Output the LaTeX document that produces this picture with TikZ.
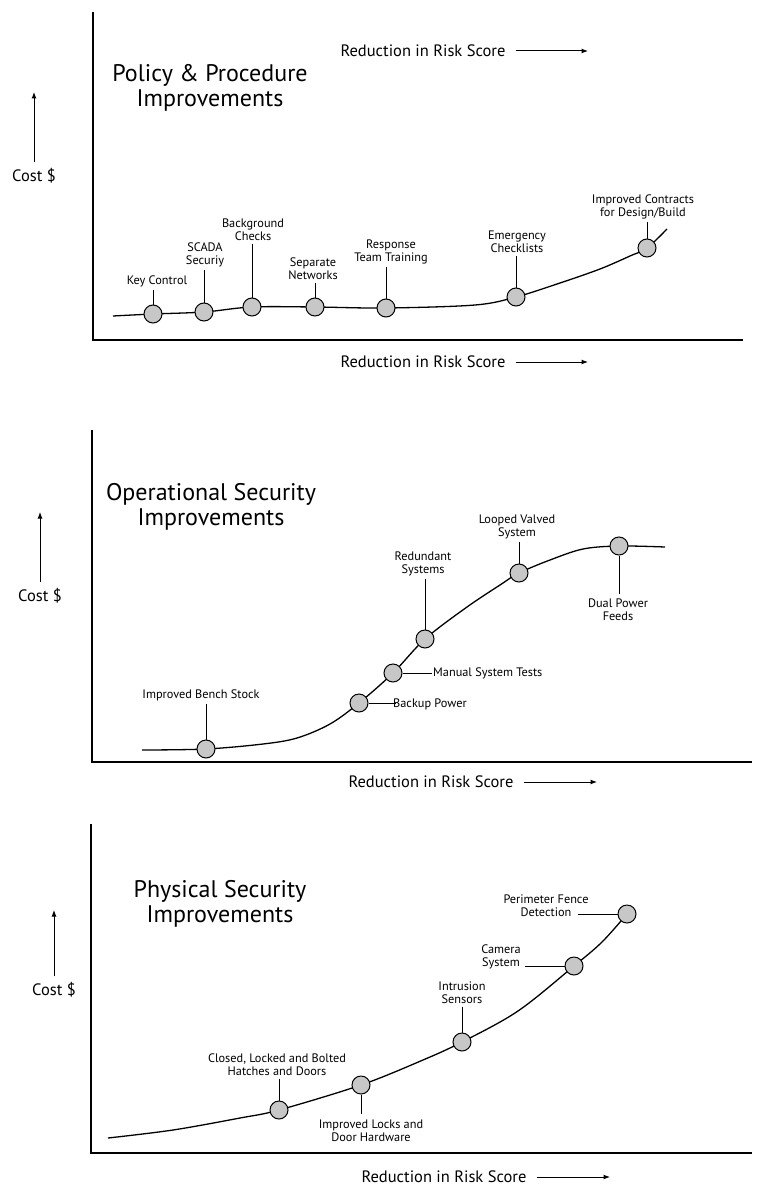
\documentclass[tikz,border=0pt]{standalone}
\usepackage{fontspec}
\setmainfont{PT Sans}
\usepackage{tikz}
\usetikzlibrary{positioning,calc}
\usetikzlibrary{arrows.meta}
\tikzstyle{punto} = [circle, draw=black, fill=black!22, minimum size=18pt, inner sep=0pt, line width=1pt]
\tikzstyle{voce} = [align=center, inner sep=1pt, font=\fontsize{12.3}{13}\selectfont]
\tikzstyle{titolo} = [align=center, inner sep=0pt, font=\fontsize{24}{25}\selectfont]
\tikzstyle{scritta} = [inner sep=0pt, font=\fontsize{16.5}{18}\selectfont]
\tikzstyle{asse} = [line width=1.8pt]
\tikzstyle{curva} = [line width=1.3pt, smooth, tension=0.55]
\tikzstyle{filo} = [line width=0.9pt]
\tikzstyle{freccia} = [line width=1pt, -{Latex[length=6.5pt, width=5pt]}]

\begin{document}
\begin{tikzpicture}[x=1pt, y=-1pt]
							\useasboundingbox (0,0) rectangle (767,1193);
							% Policy & Procedure
							\draw[asse] (93,12) -- (93,340) -- (743,340);
							\node (t1) at (210,88) [titolo] {Policy \& Procedure\\Improvements};
							\node (c1) at (34,176) [scritta] {Cost \$};
							\coordinate (a1) at (34,92);
							\draw[freccia] ([yshift=6pt]c1.north) -- (a1);
							\node (r1) at (423,51) [scritta] {Reduction in Risk Score};
							\coordinate (e1) at (588,51);
							\draw[freccia] ([xshift=10pt]r1.east) -- (e1);
							\node (s1) at (423,362) [scritta] {Reduction in Risk Score};
							\coordinate (g1) at (588,362);
							\draw[freccia] ([xshift=10pt]s1.east) -- (g1);
							\draw[curva] plot coordinates {(113,316) (153,314) (204,312) (252,307) (315,307) (386,308) (475,305) (516,297) (560,283) (600,269) (630,256) (647,248) (667,229)};
							\node (p1) at (153,314) [punto] {};
							\node (p2) at (204,312) [punto] {};
							\node (p3) at (252,307) [punto] {};
							\node (p4) at (315,307) [punto] {};
							\node (p5) at (386,308) [punto] {};
							\node (p6) at (516,297) [punto] {};
							\node (p7) at (647,248) [punto] {};
							\node (v1) at (157,281) [voce] {Key Control};
							\node (v2) at (205,255) [voce] {SCADA\\Securiy};
							\node (v3) at (253,229.5) [voce] {Background\\Checks};
							\node (v4) at (313,268.5) [voce] {Separate\\Networks};
							\node (v5) at (391,251.5) [voce] {Response\\Team Training};
							\node (v6) at (517,242) [voce] {Emergency\\Checklists};
							\node (v7) at (643,207) [voce] {Improved Contracts\\for Design/Build};
							\foreach \i in {1,...,7}
								\draw[filo] ([yshift=-2pt]v\i.south -| p\i) -- (p\i);
							% Operational Security
							\draw[asse] (92,430) -- (92,762) -- (752,762);
							\node (t2) at (211,507) [titolo] {Operational Security\\Improvements};
							\node (c2) at (40,596) [scritta] {Cost \$};
							\coordinate (a2) at (40,512);
							\draw[freccia] ([yshift=6pt]c2.north) -- (a2);
							\node (s2) at (431,782) [scritta] {Reduction in Risk Score};
							\coordinate (g2) at (597,782);
							\draw[freccia] ([xshift=10pt]s2.east) -- (g2);
							\draw[curva] plot coordinates {(142,750) (206,749) (263,744) (297,738) (330,724) (359,703) (393,673) (425,639) (467,607) (500,585) (519,573) (550,560) (583,549) (619,546) (665,547)};
							\node (q1) at (206,749) [punto] {};
							\node (q2) at (359,703) [punto] {};
							\node (q3) at (393,673) [punto] {};
							\node (q4) at (425,639) [punto] {};
							\node (q5) at (519,573) [punto] {};
							\node (q6) at (619,546) [punto] {};
							\node (w1) at (201,695) [voce] {Improved Bench Stock};
							\node (w2) at (392,704) [voce, anchor=west] {Backup Power};
							\node (w3) at (432,673) [voce, anchor=west] {Manual System Tests};
							\node (w4) at (423,563.5) [voce] {Redundant\\Systems};
							\node (w5) at (517,526.5) [voce] {Looped Valved\\System};
							\node (w6) at (618,610) [voce] {Dual Power\\Feeds};
							\draw[filo] ([yshift=-2pt]w1.south -| q1) -- (q1);
							\draw[filo] (q2) -- ([xshift=4pt]q2 -| w2.west);
							\draw[filo] (q3) -- (q3 -| w3.west);
							\draw[filo] ([yshift=-2pt]w4.south -| q4) -- (q4);
							\draw[filo] ([yshift=-2pt]w5.south -| q5) -- (q5);
							\draw[filo] (q6) -- ([yshift=4pt]w6.north -| q6);
							% Physical Security
							\draw[asse] (91,824) -- (91,1153) -- (752,1153);
							\node (t3) at (220,904) [titolo] {Physical Security\\Improvements};
							\node (c3) at (54,990) [scritta] {Cost \$};
							\coordinate (a3) at (54,910);
							\draw[freccia] ([yshift=6pt]c3.north) -- (a3);
							\node (s3) at (444,1177) [scritta] {Reduction in Risk Score};
							\coordinate (g3) at (610,1177);
							\draw[freccia] ([xshift=10pt]s3.east) -- (g3);
							\draw[curva] plot coordinates {(108,1138) (173,1130) (240,1118) (279,1110) (361,1085) (423,1060) (462,1042) (518,1011) (574,966) (602,942) (627,914)};
							\node (m1) at (279,1110) [punto] {};
							\node (m2) at (361,1085) [punto] {};
							\node (m3) at (462,1042) [punto] {};
							\node (m4) at (574,966) [punto] {};
							\node (m5) at (627,914) [punto] {};
							\node (u1) at (277,1064.5) [voce] {Closed, Locked and Bolted\\Hatches and Doors};
							\node (u2) at (371,1130.5) [voce] {Improved Locks and\\Door Hardware};
							\node (u3) at (462,992.5) [voce] {Intrusion\\Sensors};
							\node (u4) at (501,956.5) [voce] {Camera\\System};
							\node (u5) at (546,906) [voce] {Perimeter Fence\\Detection};
							\draw[filo] ([yshift=-2pt]u1.south -| m1) -- (m1);
							\draw[filo] (m2) -- ([yshift=4pt]u2.north -| m2);
							\draw[filo] ([yshift=-2pt]u3.south -| m3) -- (m3);
							\draw[filo] (m4) -- ([xshift=3pt]m4 -| u4.east);
							\draw[filo] (m5) -- ([xshift=-12pt]m5 -| u5.east);
						\end{tikzpicture}
\end{document}
